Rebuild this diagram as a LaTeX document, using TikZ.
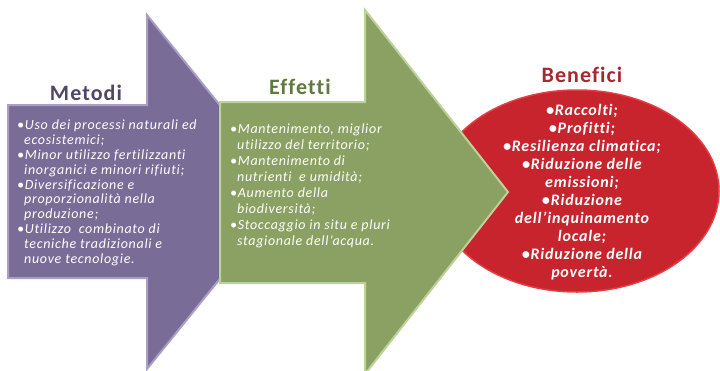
\documentclass[tikz,border=0pt]{standalone}
\usepackage{fontspec}
\setmainfont{Carlito}[LetterSpace=5, RawFeature=-liga]
\usetikzlibrary{positioning}

\definecolor{metfill}{RGB}{121,108,150}
\definecolor{metline}{RGB}{170,158,198}
\definecolor{metdark}{RGB}{80,70,104}
\definecolor{efffill}{RGB}{139,161,99}
\definecolor{effline}{RGB}{188,210,150}
\definecolor{effdark}{RGB}{95,122,60}
\definecolor{benfill}{RGB}{200,36,46}
\definecolor{benline}{RGB}{228,62,66}
\definecolor{bendark}{RGB}{168,40,48}

\tikzset{
  title/.style={font=\fontsize{22}{24}\selectfont\bfseries, inner sep=0pt},
  listtext/.style={text=white, align=left, inner sep=0pt, anchor=north west},
}
\newcommand{\bul}{\textbullet}
\newcommand{\cnt}{\phantom{\textbullet}}

\begin{document}
\begin{tikzpicture}[x=1pt,y=-1pt]
\useasboundingbox (0,0) rectangle (720,370);
\clip (0,0) rectangle (720,370);
% Metodi
\draw[metline, line width=2pt, fill=metfill, line join=miter]
  (8,105) -- (147,105) -- (147,15) -- (290,192) -- (147,369) -- (147,278) -- (8,278) -- cycle;
% Benefici
\draw[benline, line width=1.5pt, fill=benfill] (577,191) ellipse [x radius=142, y radius=101];
% Effetti
\draw[effline, line width=2pt, fill=efffill, line join=miter]
  (220,102) -- (365,102) -- (365,10) -- (508,192) -- (365,374) -- (365,283) -- (220,283) -- cycle;

\node[title, text=metdark] (metodi) at (86,93) {Metodi};
\node[title, text=effdark] (effetti) at (300,87) {Effetti};
\node[title, text=bendark] (benefici) at (582,75) {Benefici};

\node[listtext, font=\fontsize{14}{14.8}\selectfont\itshape] (metlist) at (17,120) {%
\bul Uso dei processi naturali ed\\
\cnt ecosistemici;\\
\bul Minor utilizzo fertilizzanti\\
\cnt inorganici e minori rifiuti;\\
\bul Diversificazione e\\
\cnt proporzionalità nella\\
\cnt produzione;\\
\bul Utilizzo\ \ combinato di\\
\cnt tecniche tradizionali e\\
\cnt nuove tecnologie.};

\node[listtext, font=\fontsize{14}{16}\selectfont\itshape] (efflist) at (230,124) {%
\bul Mantenimento, miglior\\
\cnt utilizzo del territorio;\\
\bul Mantenimento di\\
\cnt nutrienti\ \ e umidità;\\
\bul Aumento della\\
\cnt biodiversità;\\
\bul Stoccaggio in situ e pluri\\
\cnt stagionale dell’acqua.};

\node[text=white, align=center, inner sep=0pt, anchor=north,
  font=\fontsize{16}{18}\selectfont\bfseries\itshape] (benlist) at (582,104) {%
\bul Raccolti;\\
\bul Profitti;\\
\bul Resilienza climatica;\\
\bul Riduzione delle\\
emissioni;\\
\bul Riduzione\\
dell’inquinamento\\
locale;\\
\bul Riduzione della\\
povertà.};
\end{tikzpicture}
\end{document}
